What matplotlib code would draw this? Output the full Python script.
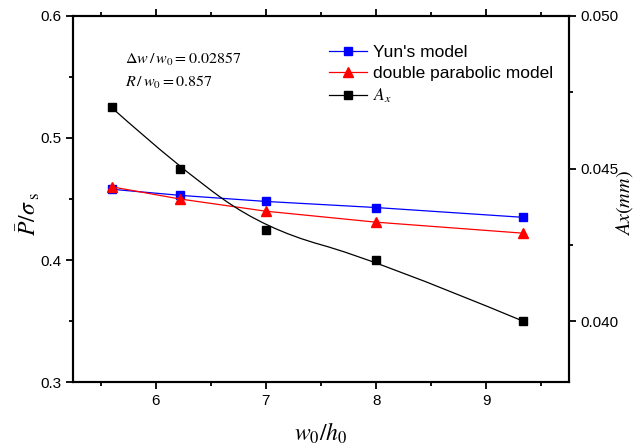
import numpy as np
import matplotlib.pyplot as plt
from matplotlib.path import Path
from matplotlib.patches import PathPatch
from matplotlib.lines import Line2D

plt.rcParams['font.family'] = ['Liberation Sans', 'DejaVu Sans']
plt.rcParams['mathtext.fontset'] = 'stix'

# data
ratio = [5.6, 6.22, 7.0, 8.0, 9.33]          # w0/h0
yun = [0.458, 0.453, 0.448, 0.443, 0.435]     # Yun's model, P/sigma_s
dpm = [0.460, 0.450, 0.440, 0.431, 0.422]     # double parabolic model
ax_mm = [0.047, 0.045, 0.043, 0.042, 0.040]   # Ax (mm), right axis

fig = plt.figure(figsize=(6.37, 4.48), dpi=100)
ax = fig.add_axes([0.1146, 0.1473, 0.7787, 0.817])
ax2 = ax.twinx()

ax.plot(ratio, yun, color='blue', lw=0.9, marker='s', ms=6, label="Yun's model")
ax.plot(ratio, dpm, color='red', lw=0.9, marker='^', ms=7.5, label='double parabolic model')

# black series: markers at data, line drawn as a smooth curve using points as controls
ax2.plot(ratio, ax_mm, ls='none', marker='s', color='black', ms=6)
pts = list(zip(ratio, ax_mm))
verts = [pts[0]]
codes = [Path.MOVETO]
for i in range(1, len(pts) - 1):
    if i < len(pts) - 2:
        end = ((pts[i][0] + pts[i + 1][0]) / 2, (pts[i][1] + pts[i + 1][1]) / 2)
    else:
        end = pts[-1]
    verts += [pts[i], end]
    codes += [Path.CURVE3, Path.CURVE3]
ax2.add_patch(PathPatch(Path(verts, codes), fill=False, edgecolor='black', lw=0.9))

ax.set_xlim(5.25, 9.75)
ax.set_ylim(0.3, 0.6)
ax2.set_ylim(0.038, 0.050)
ax.set_xticks([6, 7, 8, 9])
ax.set_xticks(np.arange(5.5, 9.6, 0.5), minor=True)
ax.set_yticks([0.3, 0.4, 0.5, 0.6])
ax.set_yticks([0.35, 0.45, 0.55], minor=True)
ax.set_yticklabels(['0.3', '0.4', '0.5', '0.6'])
ax2.set_yticks([0.040, 0.045, 0.050])
ax2.set_yticklabels(['0.040', '0.045', '0.050'])
ax2.set_yticks([0.0425, 0.0475], minor=True)

for a in (ax, ax2):
    for s in a.spines.values():
        s.set_linewidth(1.5)
ax.tick_params(which='both', direction='out', labelsize=11, width=1.3, top=True)
ax.tick_params(which='major', length=5)
ax.tick_params(which='minor', length=3)
ax2.tick_params(which='both', direction='out', labelsize=11, width=1.3)
ax2.tick_params(which='major', length=5)
ax2.tick_params(which='minor', length=3)

ax.set_xlabel(r'$w_0/h_0$', fontsize=17, labelpad=9)
ax.set_ylabel(r'$\bar{P}/\sigma_{\rm\ s}$', fontsize=17)
ax.yaxis.set_label_coords(-0.062, 0.46)
ax2.set_ylabel(r'$Ax(mm)$', fontsize=14.5)
ax2.yaxis.set_label_coords(1.09, 0.49)

ax.text(0.105, 0.87, r'$\Delta w\,/\,w_0 = 0.02857$', transform=ax.transAxes, fontsize=11.5)
ax.text(0.105, 0.805, r'$R\,/\,w_0 = 0.857$', transform=ax.transAxes, fontsize=11.5)

h1, l1 = ax.get_legend_handles_labels()
h3 = Line2D([], [], color='black', lw=0.9, marker='s', ms=6)
leg = ax2.legend(h1 + [h3], l1 + [r'$A_x$'], loc='upper left', bbox_to_anchor=(0.485, 0.965),
                 frameon=False, fontsize=12.5, handlelength=2.2, handletextpad=0.35, labelspacing=0.35)

fig.savefig('out.png', dpi=100)
